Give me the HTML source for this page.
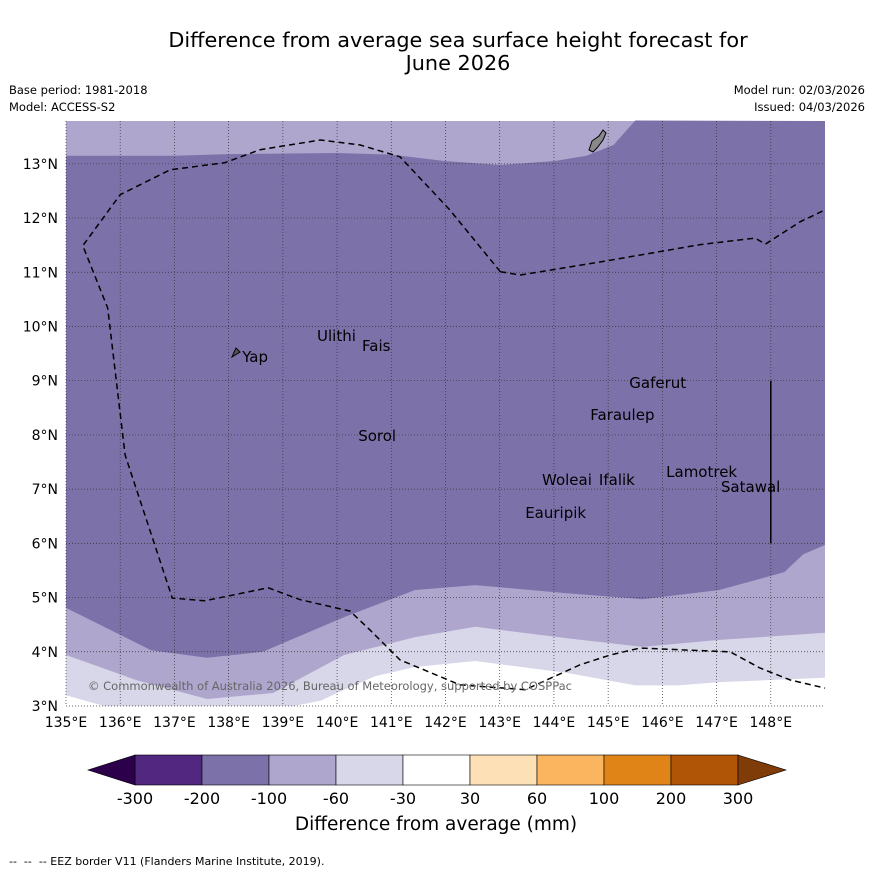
<!DOCTYPE html>
<html><head><meta charset="utf-8"><style>
body{margin:0;background:#fff;font-family:"Liberation Sans","DejaVu Sans",sans-serif}
#root{position:relative;width:873px;height:873px;overflow:hidden}
</style></head><body><div id="root">
<svg id="svg" width="873" height="873" xmlns="http://www.w3.org/2000/svg" style="font-family:'DejaVu Sans','Liberation Sans',sans-serif">
<text x="458" y="47" text-anchor="middle" font-size="20.8">Difference from average sea surface height forecast for</text>
<text x="458" y="70" text-anchor="middle" font-size="20.8">June 2026</text>
<text x="9" y="94" font-size="11.5">Base period: 1981-2018</text>
<text x="9" y="111" font-size="11.5">Model: ACCESS-S2</text>
<text x="865" y="94" font-size="11.5" text-anchor="end">Model run: 02/03/2026</text>
<text x="865" y="111" font-size="11.5" text-anchor="end">Issued: 04/03/2026</text>
<g id="map"></g>
<g id="cbar"></g>
<text x="436" y="830" text-anchor="middle" font-size="18.5">Difference from average (mm)</text>
<text x="9" y="865" font-size="11" xml:space="preserve">--  --  -- EEZ border V11 (Flanders Marine Institute, 2019).</text>
</svg></div>
<script>
const lonTicks=[135,136,137,138,139,140,141,142,143,144,145,146,147,148];
const latTicks=[3,4,5,6,7,8,9,10,11,12,13];
const cbLevels=[-300,-200,-100,-60,-30,30,60,100,200,300];
const cbColors=["#512780","#7d71a9","#aea6cd","#d8d7e9","#ffffff","#fde0b6","#fbb55f","#e08417","#b05405"];
const cbExtLow="#2d004b", cbExtHigh="#7f3b08";
const topLightEdge=[[135,13.15],[137,13.15],[138,13.18],[140,13.2],[141,13.17],[142,13.05],[143,12.98],[144,13.05],[144.6,13.15],[145.1,13.35],[145.5,13.8]];
const darkBottomEdge=[[135,4.81],[136.57,4.03],[137.6,3.89],[138.63,4.0],[140.13,4.64],[141.44,5.14],[142.55,5.23],[144.24,5.08],[145.64,4.97],[147.05,5.14],[148.25,5.47],[148.6,5.8],[149,5.97]];
const lightBottomEdge=[[135,3.94],[136.29,3.48],[137.6,3.13],[138.82,3.24],[140.13,3.94],[141.44,4.27],[142.55,4.46],[144.24,4.25],[145.64,4.09],[147.05,4.22],[149,4.35]];
const whiteEdge=[[139.2,3.0],[139.7,3.1],[140.13,3.3],[140.7,3.55],[141.44,3.72],[142.55,3.83],[144.24,3.61],[145.5,3.38],[146.3,3.38],[147.05,3.44],[149,3.52]];
const whiteCorner=[[135,3.2],[135.7,3.0]];
const eezMain=[[143.01,11.01],[142.08,12.15],[141.16,13.13],[140.42,13.35],[139.69,13.44],[138.58,13.26],[137.93,13.02],[136.92,12.89],[136.0,12.43],[135.31,11.49],[135.77,10.34],[136.09,7.63],[136.96,4.99],[137.56,4.94],[138.73,5.18],[139.32,4.96],[140.24,4.75],[140.61,4.40],[141.16,3.85],[142.27,3.39],[143.47,3.30],[144.48,3.76],[145.04,3.94],[145.59,4.07],[146.51,4.03],[147.25,4.0],[147.8,3.7],[148.36,3.48],[149,3.33]];
const eezEast=[[143.01,11.01],[143.38,10.95],[144.85,11.19],[146.7,11.51],[147.71,11.63],[147.9,11.52],[148.54,11.93],[149,12.15]];
const places=[["Yap",138.25,9.44],["Ulithi",139.63,9.82],["Fais",140.46,9.64],["Gaferut",145.39,8.96],["Faraulep",144.67,8.37],["Sorol",140.39,7.98],["Lamotrek",146.07,7.32],["Woleai",143.78,7.17],["Ifalik",144.83,7.17],["Satawal",147.08,7.04],["Eauripik",143.47,6.56]];
const LON0=135,LON1=149,LAT0=3,LAT1=13.79,X0=66,X1=825,Y0=706,Y1=121;
const px=l=>X0+(l-LON0)/(LON1-LON0)*(X1-X0);
const py=l=>Y0-(l-LAT0)/(LAT1-LAT0)*(Y0-Y1);
const NS="http://www.w3.org/2000/svg";
function mk(tag,at,parent){const e=document.createElementNS(NS,tag);for(const k in at)e.setAttribute(k,at[k]);parent.appendChild(e);return e;}
const map=document.getElementById('map');
const pts=a=>a.map(p=>px(p[0]).toFixed(1)+","+py(p[1]).toFixed(1)).join(" ");
let e;
e=mk('rect',{x:X0,y:Y1,width:X1-X0,height:Y0-Y1,fill:"#aea6cd"},map);


e=mk('polygon',{points:pts(topLightEdge)+" "+X1+","+Y1+" "+pts(darkBottomEdge.slice().reverse()),fill:"#7d71a9"},map);


e=mk('polygon',{points:pts(lightBottomEdge)+" "+X1+","+Y0+" "+X0+","+Y0,fill:"#d8d7e9"},map);


e=mk('polygon',{points:pts(whiteEdge)+" "+X1+","+Y0,fill:"#ffffff"},map);


e=mk('polygon',{points:X0+","+Y0+" "+pts(whiteCorner),fill:"#ffffff"},map);


lonTicks.forEach(l=>{const g=mk('line',{x1:px(l),x2:px(l),y1:Y1,y2:Y0,stroke:"#333",'stroke-width':0.7,'stroke-dasharray':"1,2"},map);


const t=mk('text',{x:px(l),y:727,'text-anchor':'middle','font-size':14},map);t.textContent=l+"°E";

});
latTicks.forEach(l=>{const g=mk('line',{x1:X0,x2:X1,y1:py(l),y2:py(l),stroke:"#333",'stroke-width':0.7,'stroke-dasharray':"1,2"},map);


const t=mk('text',{x:58,y:py(l)+5,'text-anchor':'end','font-size':14},map);t.textContent=l+"°N";

});
[eezMain,eezEast].forEach(a=>{const l=mk('polyline',{points:pts(a),fill:"none",stroke:"#000",'stroke-width':1.5,'stroke-dasharray':"6,4"},map);

});
e=mk('line',{x1:px(148),x2:px(148),y1:py(9),y2:py(6),stroke:"#000",'stroke-width':1.5},map);


e=mk('path',{d:"M589,150 L592,141 L599,136 L603,130 L606,133 L603,140 L597,148 L593,152 Z",fill:"#888",stroke:"#000",'stroke-width':1},map);


e=mk('path',{d:"M232,357 L236,348 L240,352 Z",fill:"#555",stroke:"#000"},map);


places.forEach(p=>{const t=mk('text',{x:px(p[1]),y:py(p[2])+5,'font-size':15},map);t.textContent=p[0];

});
e=mk('text',{x:88,y:690,'font-size':11.5,fill:"#666",textLength:484},map);e.textContent="© Commonwealth of Australia 2026, Bureau of Meteorology, supported by COSPPac";


const cb=document.getElementById('cbar');const CX0=135,CX1=738,CY=755,CH=30;const bw=(CX1-CX0)/cbColors.length;
cbColors.forEach((c,i)=>{const r=mk('rect',{x:CX0+i*bw,y:CY,width:bw,height:CH,fill:c,stroke:"#000",'stroke-width':0.6},cb);

});
e=mk('polygon',{points:`${CX0},${CY} 88,${CY+CH/2} ${CX0},${CY+CH}`,fill:cbExtLow,stroke:"#000",'stroke-width':0.6},cb);


e=mk('polygon',{points:`${CX1},${CY} 786,${CY+CH/2} ${CX1},${CY+CH}`,fill:cbExtHigh,stroke:"#000",'stroke-width':0.6},cb);


cbLevels.forEach((v,i)=>{const t=mk('text',{x:CX0+i*bw,y:804,'text-anchor':'middle','font-size':16},cb);t.textContent=v;

});
</script></body></html>
